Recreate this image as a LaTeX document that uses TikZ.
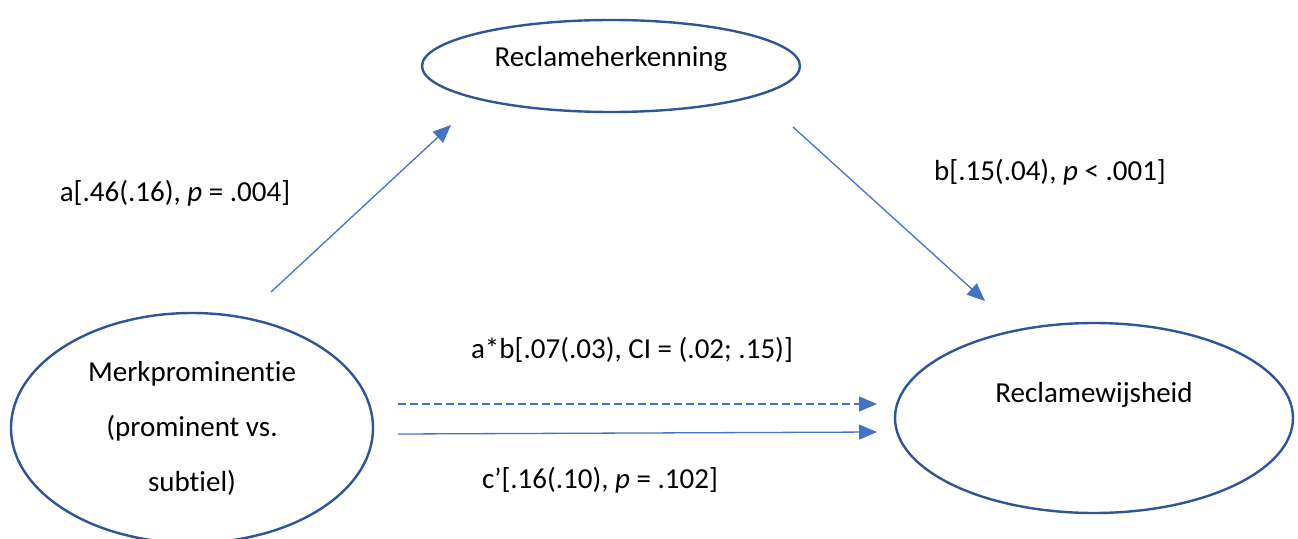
\documentclass[tikz,border=0pt]{standalone}
\usepackage{fontspec}
\setmainfont{Carlito}[Ligatures=NoCommon]
\usetikzlibrary{shapes.geometric,arrows.meta}
\definecolor{ovalblue}{HTML}{2F5597}
\definecolor{arrowblue}{HTML}{4472C4}
\tikzset{
  oval/.style={ellipse, draw=ovalblue, line width=2.4pt, inner sep=0pt},
  txt/.style={font=\fontsize{29}{35}\selectfont, inner sep=0pt, anchor=center},
  conn/.style={draw=arrowblue, line width=1.3pt, -{Triangle[length=18pt,width=15pt]}},
  dashconn/.style={conn, dash pattern=on 8pt off 4pt}
}
\begin{document}
\begin{tikzpicture}[x=1pt,y=-1pt]
\useasboundingbox (0,0) rectangle (1298,538);
% ellipses
\node[oval, minimum width=378pt, minimum height=92pt] (rh) at (611,66) {};
\node[txt] (rhtxt) at (611,59) {Reclameherkenning};
\node[oval, minimum width=362pt, minimum height=230pt] (mp) at (192,428) {};
\node[txt, align=center] (mptxt) at (192,428) {Merkprominentie\\[20pt](prominent vs.\\[20pt]subtiel)};
\node[oval, minimum width=398pt, minimum height=190pt] (rw) at (1094,418) {};
\node[txt] (rwtxt) at (1094,395) {Reclamewijsheid};
% connector end points
\coordinate (a1) at (271,292);
\coordinate (a2) at (451,125);
\coordinate (b1) at (793,127);
\coordinate (b2) at (985,301);
\coordinate (d1) at (398,404);
\coordinate (d2) at (877,404);
\coordinate (c1) at (398,434);
\coordinate (c2) at (877,432);
\draw[conn] (a1) -- (a2);
\draw[conn] (b1) -- (b2);
\draw[dashconn] (d1) -- (d2);
\draw[conn] (c1) -- (c2);
% labels
\node[txt] (la) at (175,193) {a[.46(.16), \textit{p} = .004]};
\node[txt] (lb) at (1050,172) {b[.15(.04), \textit{p} < .001]};
\node[txt] (lab) at (632,350) {a*b[.07(.03), CI = (.02; .15)]};
\node[txt] (lc) at (600,480) {c’[.16(.10), \textit{p} = .102]};
\end{tikzpicture}
\end{document}
